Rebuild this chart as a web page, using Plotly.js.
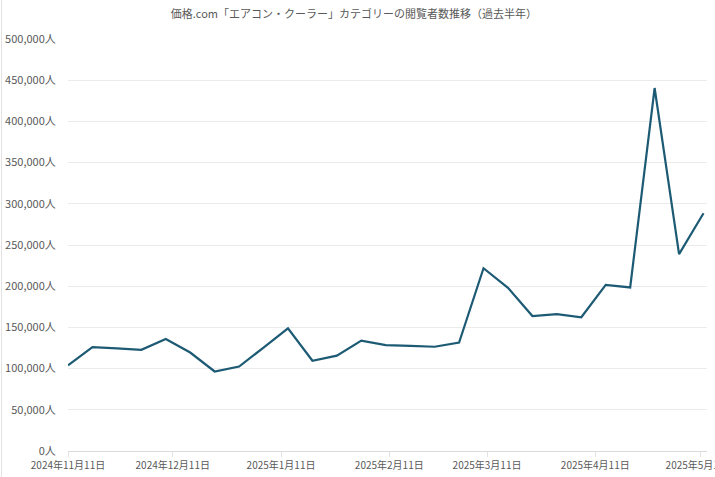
<!DOCTYPE html>
<html>
<head>
<meta charset="utf-8">
<script src="https://cdn.plot.ly/plotly-3.0.1.min.js"></script>
<style>
html,body{margin:0;padding:0;background:#fff;}
#chart{width:715px;height:477px;}
#edge{position:absolute;left:1px;top:0;width:1px;height:477px;background:#e3e3e3;}
</style>
</head>
<body>
<div id="chart"></div>
<div id="edge"></div>
<script>
const titleText = '価格.com「エアコン・クーラー」カテゴリーの閲覧者数推移（過去半年）';
const weeks = ['2024-11-11','2024-11-18','2024-11-25','2024-12-02','2024-12-09','2024-12-16','2024-12-23','2024-12-30',
  '2025-01-06','2025-01-13','2025-01-20','2025-01-27','2025-02-03','2025-02-10','2025-02-17','2025-02-24',
  '2025-03-03','2025-03-10','2025-03-17','2025-03-24','2025-03-31','2025-04-07','2025-04-14','2025-04-21',
  '2025-04-28','2025-05-05','2025-05-12'];
const viewers = [104000,126000,124500,122800,136000,119500,96500,102500,
  125500,148800,109500,115700,134000,128500,127500,126500,
  131500,221800,198000,163800,166200,162300,201500,198500,
  440500,239000,288500];
const xTickVals = ['2024-11-11','2024-12-11','2025-01-11','2025-02-11','2025-03-11','2025-04-11','2025-05-11'];
const xTickText = ['2024年11月11日','2024年12月11日','2025年1月11日','2025年2月11日','2025年3月11日','2025年4月11日','2025年5月11日'];
const yTickVals = [0,50000,100000,150000,200000,250000,300000,350000,400000,450000,500000];
const yTickText = ['0人','50,000人','100,000人','150,000人','200,000人','250,000人','300,000人','350,000人','400,000人','450,000人','500,000人'];

const font = '"Noto Sans CJK JP", "Noto Sans", sans-serif';
const trace = {
  x: weeks, y: viewers, type: 'scatter', mode: 'lines',
  line: {color: '#1d5a74', width: 2.2},
  hoverinfo: 'x+y'
};
const layout = {
  width: 715, height: 477,
  margin: {l: 68, r: 8, t: 39, b: 26, pad: 0},
  paper_bgcolor: '#ffffff', plot_bgcolor: '#ffffff',
  showlegend: false,
  font: {family: font, color: '#595959', size: 11},
  title: {text: titleText, font: {family: font, size: 11, color: '#595959'},
          xref: 'container', x: 0.495, xanchor: 'center', yref: 'container', y: 0.971, yanchor: 'middle'},
  xaxis: {
    type: 'date', range: ['2024-11-11', '2025-05-13'],
    tickmode: 'array', tickvals: xTickVals, ticktext: xTickText,
    ticklabeloverflow: 'allow',
    showgrid: false, zeroline: false,
    showline: true, linecolor: '#d9d9d9', linewidth: 1,
    ticks: 'outside', ticklen: 5, tickcolor: '#e3e3e3',
    tickfont: {family: font, size: 10, color: '#595959'}
  },
  yaxis: {
    range: [0, 500000], tickmode: 'array', tickvals: yTickVals, ticktext: yTickText,
    showgrid: true, gridcolor: '#ebebeb', gridwidth: 1,
    zeroline: false, showline: false,
    ticks: 'outside', ticklen: 9, tickcolor: 'rgba(0,0,0,0)',
    tickfont: {family: font, size: 11, color: '#595959'}
  }
};
Plotly.newPlot('chart', [trace], layout, {displayModeBar: false, staticPlot: true});
</script>
</body>
</html>
